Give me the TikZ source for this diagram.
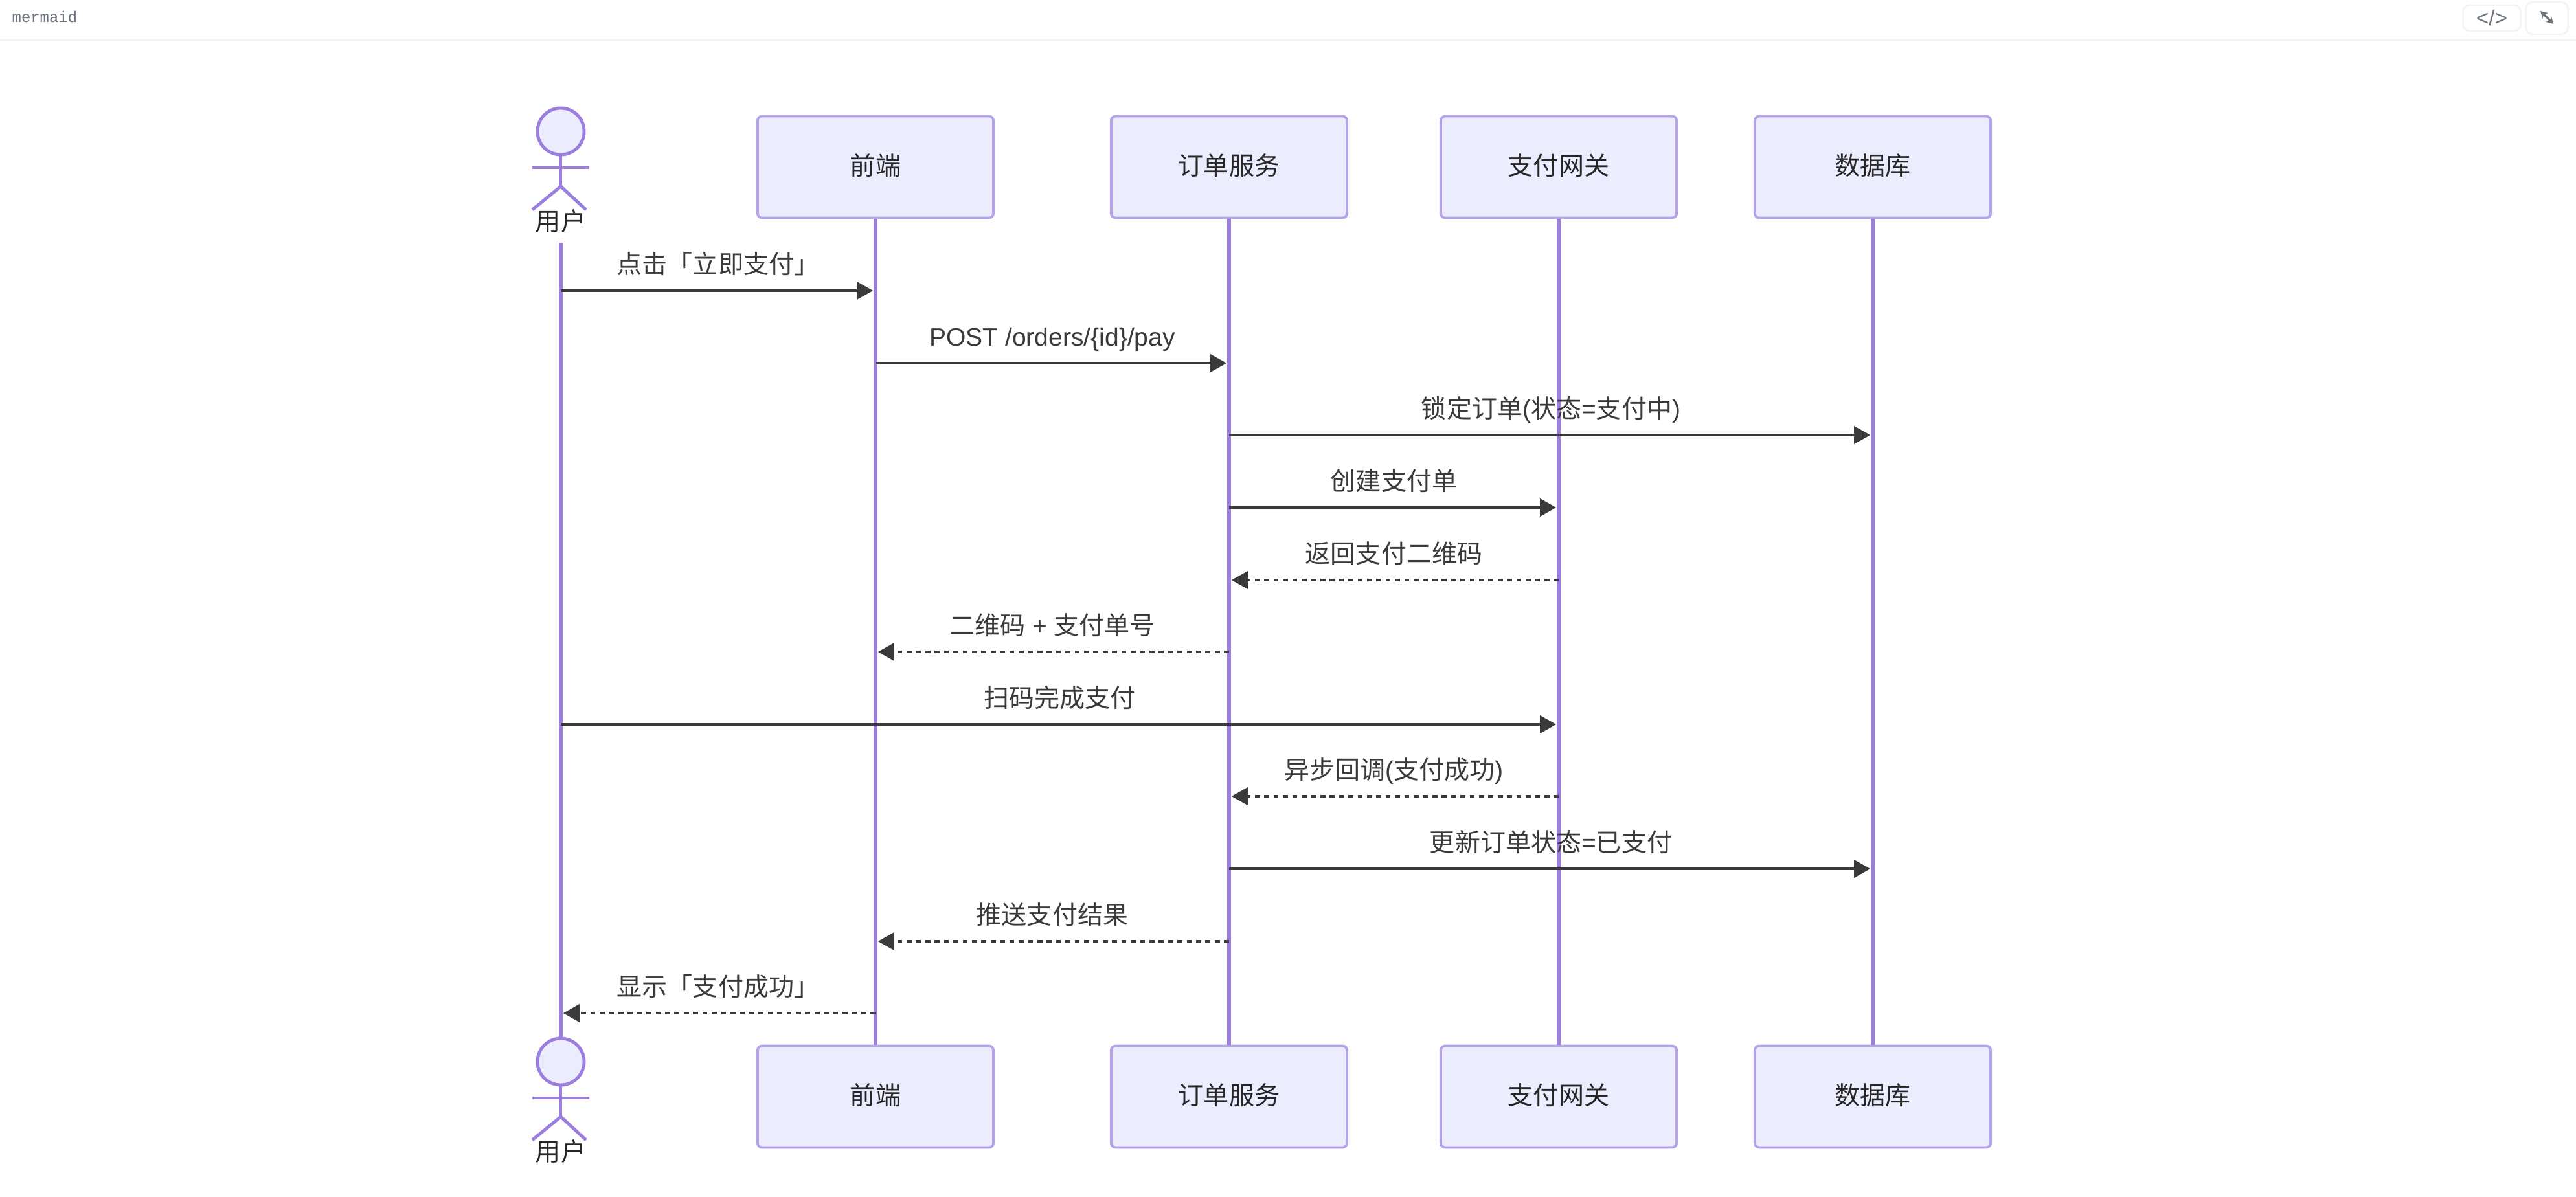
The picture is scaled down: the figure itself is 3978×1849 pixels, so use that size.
\documentclass[tikz,border=0pt]{standalone}
\usepackage{fontspec}
\usetikzlibrary{arrows.meta,positioning}
\setmainfont{Liberation Sans}
\setmonofont{Liberation Mono}
\newfontfamily\zhfont{Noto Sans CJK SC}
\newcommand{\zh}[1]{{\zhfont #1}}
\definecolor{purp}{HTML}{9C7EDF}
\definecolor{boxline}{HTML}{B5A5E8}
\definecolor{boxfill}{HTML}{ECECFF}
\definecolor{msgline}{HTML}{3A3A3A}
\definecolor{rule}{HTML}{F3F3F3}
\definecolor{ink}{HTML}{6B7280}

\begin{document}
\begin{tikzpicture}[x=0.01cm, y=-0.01cm, font=\fontsize{11.1}{13}\selectfont,
  partbox/.style={draw=boxline, fill=boxfill, line width=1.1pt, rounded corners=2pt,
    minimum width=3.64cm, minimum height=1.57cm, inner sep=0pt, text=black!85,
    text height=9pt, text depth=2pt},
  acthead/.style={circle, draw=purp, fill=boxfill, line width=1.4pt, minimum size=0.72cm, inner sep=0pt},
  actline/.style={draw=purp, line width=1.4pt},
  life/.style={draw=purp, line width=1.5pt},
  solidmsg/.style={draw=msgline, line width=1pt, -{Triangle[length=7.1pt,width=7.7pt]}, shorten >=1.1pt},
  dashmsg/.style={draw=msgline, line width=1pt, dash pattern=on 2.2pt off 1.9pt, -{Triangle[length=7.1pt,width=7.7pt]}, shorten >=1.1pt},
  msglabel/.style={yshift=0.37cm, inner sep=0pt, text=msgline, text height=8.5pt, text depth=2.5pt},
  btn/.style={draw=rule, line width=0.7pt, rounded corners=3pt, inner sep=0pt, text=ink}]
\useasboundingbox (0,0) rectangle (3978,1849);
\fill[white] (0,0) rectangle (3978,1849);

% header strip
\coordinate (ruleL) at (0,62);
\coordinate (ruleR) at (3978,62);
\draw[rule, line width=0.7pt] (ruleL) -- (ruleR);
\node[inner sep=0pt, anchor=west, text=ink] (lang) at (18,26) {\fontsize{6.8}{8}\ttfamily mermaid};
\node[btn, minimum width=0.89cm, minimum height=0.4cm] (code) at (3848,28) {\fontsize{9.5}{11}\selectfont </>};
\node[btn, minimum width=0.65cm, minimum height=0.5cm] (expand) at (3933,28) {};
\coordinate (expandA) at (3923,17);
\coordinate (expandB) at (3943,37);
\draw[ink, line width=0.9pt, {Stealth[length=3pt,width=3.4pt]}-{Stealth[length=3pt,width=3.4pt]}] (expandA) -- (expandB);

% participants
\foreach \nm/\xx/\txt in {front/1352/前端, order/1898/订单服务, pay/2407/支付网关, db/2892/数据库} {
  \node[partbox] (\nm top) at (\xx,258) {\zh{\txt}};
  \node[partbox] (\nm bot) at (\xx,1694) {\zh{\txt}};
  \draw[life] (\nm top) -- (\nm bot);
  \coordinate (\nm x) at (\xx,900);
}

% actor, top and bottom
\foreach \pos/\yy in {top/203, bot/1640} {
  \node[acthead] (head\pos) at (866,\yy) {};
  \coordinate (hip\pos) at (866,\yy+85);
  \coordinate (armL\pos) at (822,\yy+56);
  \coordinate (armR\pos) at (910,\yy+56);
  \coordinate (legL\pos) at (822,\yy+121);
  \coordinate (legR\pos) at (905,\yy+121);
  \draw[actline] (head\pos) -- (hip\pos);
  \draw[actline] (armL\pos) -- (armR\pos);
  \draw[actline] (legL\pos) -- (hip\pos) -- (legR\pos);
  \node[inner sep=0pt, text=black!85] (name\pos) at (866,\yy+139) {\zh{用户}};
}
\coordinate (usera) at (866,375);
\coordinate (userx) at (866,900);
\draw[life] (usera) -- (headbot);

% messages
\foreach \n/\src/\dst/\yy/\sty/\txt in {
  1/user/front/449/solidmsg/{\zh{点击「立即支付」}},
  2/front/order/561/solidmsg/{POST /orders/\{id\}/pay},
  3/order/db/672/solidmsg/{\zh{锁定订单}(\zh{状态}=\zh{支付中})},
  4/order/pay/784/solidmsg/{\zh{创建支付单}},
  5/pay/order/896/dashmsg/{\zh{返回支付二维码}},
  6/order/front/1007/dashmsg/{\zh{二维码} + \zh{支付单号}},
  7/user/pay/1119/solidmsg/{\zh{扫码完成支付}},
  8/pay/order/1230/dashmsg/{\zh{异步回调}(\zh{支付成功})},
  9/order/db/1342/solidmsg/{\zh{更新订单状态}=\zh{已支付}},
  10/order/front/1454/dashmsg/{\zh{推送支付结果}},
  11/front/user/1565/dashmsg/{\zh{显示「支付成功」}}} {
  \coordinate (m\n a) at (\src x |- 0,\yy);
  \coordinate (m\n b) at (\dst x |- 0,\yy);
  \draw[\sty] (m\n a) -- node[msglabel] (lbl\n) {\txt} (m\n b);
}
\end{tikzpicture}
\end{document}
